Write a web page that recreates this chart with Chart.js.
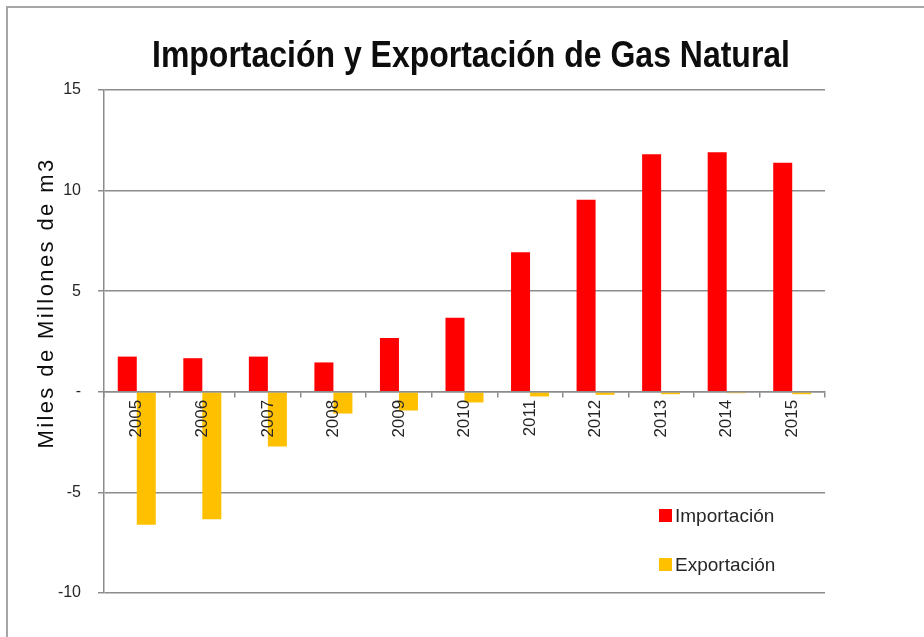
<!DOCTYPE html>
<html>
<head>
<meta charset="utf-8">
<script src="https://cdn.jsdelivr.net/npm/chart.js@4"></script>
<style>
  html, body { margin: 0; padding: 0; background: #fff; }
  #wrap { width: 924px; height: 637px; position: relative; }
</style>
</head>
<body>
<div id="wrap"><canvas id="c" width="924" height="637"></canvas></div>
<script>
const chartTitle = 'Importación y Exportación de Gas Natural';
const yAxisTitle = 'Miles de Millones de m3';
const categories = ['2005','2006','2007','2008','2009','2010','2011','2012','2013','2014','2015'];
const importacion = [1.75, 1.67, 1.75, 1.46, 2.68, 3.68, 6.93, 9.54, 11.81, 11.90, 11.38];
const exportacion = [-6.61, -6.33, -2.72, -1.08, -0.93, -0.53, -0.23, -0.15, -0.12, -0.07, -0.12];
const seriesNames = ['Importación', 'Exportación'];
const yMin = -10, yMax = 15, yStep = 5;

const GRID = '#8c8c8c';
const TEXT = '#262626';

const decorPlugin = {
  id: 'decor',
  beforeDraw(chart) {
    const ctx = chart.ctx;
    ctx.save();
    ctx.fillStyle = '#ffffff';
    ctx.fillRect(0, 0, chart.width, chart.height);
    ctx.strokeStyle = '#a6a6a6';
    ctx.lineWidth = 2;
    ctx.beginPath();
    ctx.moveTo(7, chart.height);
    ctx.lineTo(7, 7);
    ctx.lineTo(chart.width, 7);
    ctx.stroke();
    ctx.restore();
  },
  afterDraw(chart) {
    const ctx = chart.ctx;
    ctx.save();
    // Title
    ctx.fillStyle = '#0d0d0d';
    ctx.font = "bold 37px 'Liberation Sans', sans-serif";
    ctx.textAlign = 'center';
    ctx.textBaseline = 'alphabetic';
    ctx.fillText(chartTitle, 471, 67, 638);
    // Y axis title
    ctx.save();
    ctx.translate(53, 303);
    ctx.rotate(-Math.PI / 2);
    ctx.font = "22px 'Liberation Sans', sans-serif";
    ctx.letterSpacing = '2.4px';
    ctx.fillStyle = '#0d0d0d';
    ctx.textAlign = 'center';
    ctx.fillText(yAxisTitle, 0, 0);
    ctx.restore();
    // Legend
    const items = chart.data.datasets;
    const ly = [522, 571];
    ctx.font = "19px 'Liberation Sans', sans-serif";
    ctx.textAlign = 'left';
    items.forEach((ds, i) => {
      ctx.fillStyle = ds.backgroundColor;
      ctx.fillRect(659, ly[i] - 13, 13, 13);
      ctx.fillStyle = TEXT;
      ctx.fillText(ds.label, 675, ly[i]);
    });
    ctx.restore();
  }
};

new Chart(document.getElementById('c'), {
  type: 'bar',
  data: {
    labels: categories,
    datasets: [
      { label: seriesNames[0], data: importacion, backgroundColor: '#ff0000', borderWidth: 0 },
      { label: seriesNames[1], data: exportacion, backgroundColor: '#ffc000', borderWidth: 0 }
    ]
  },
  options: {
    responsive: false,
    animation: false,
    devicePixelRatio: 1,
    layout: { padding: { top: 90, right: 99, bottom: 44, left: 0 } },
    plugins: {
      legend: { display: false },
      title: { display: false },
      tooltip: { enabled: false }
    },
    datasets: { bar: { categoryPercentage: 0.58, barPercentage: 1.0 } },
    scales: {
      x: {
        position: { y: 0 },
        offset: true,
        grid: { z: 1, offset: true, drawOnChartArea: false, drawTicks: true, tickLength: 5, color: GRID, lineWidth: 1.5 },
        border: { z: 1, display: true, color: GRID, width: 1.5 },
        ticks: {
          z: 1,
          minRotation: 90, maxRotation: 90, padding: 3, autoSkip: false,
          color: TEXT, font: { family: "'Liberation Sans', sans-serif", size: 17 }
        }
      },
      y: {
        min: yMin, max: yMax,
        afterFit(scale) { scale.width = 104; },
        grid: { color: GRID, lineWidth: 1.5, tickLength: 6, tickColor: GRID },
        border: { display: true, color: GRID, width: 1.5 },
        ticks: {
          stepSize: yStep, padding: 17, color: TEXT,
          font: { family: "'Liberation Sans', sans-serif", size: 16 },
          callback: (v) => v === 0 ? '-' : v
        }
      }
    }
  },
  plugins: [decorPlugin]
});
</script>
</body>
</html>
